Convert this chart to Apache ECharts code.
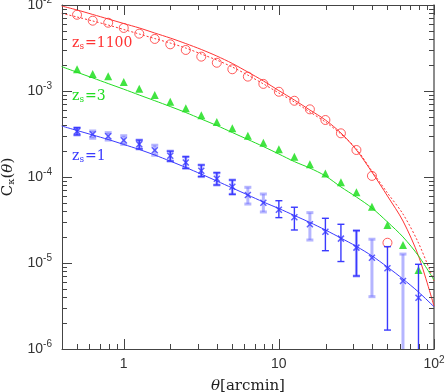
<!DOCTYPE html>
<html>
<head>
<meta charset="utf-8">
<script src="https://cdn.jsdelivr.net/npm/echarts@6/dist/echarts.min.js"></script>
<style>
  html, body { margin: 0; padding: 0; background: #fff; }
  #main { width: 447px; height: 392px; }
</style>
</head>
<body>
<div id="main"></div>
<script>
// theta [arcmin] of the measured points
var theta = [0.5, 0.631, 0.794, 1.0, 1.259, 1.585, 1.995, 2.512, 3.162, 3.981, 5.012, 6.31,
  7.943, 10.0, 12.59, 15.85, 19.95, 25.12, 31.62, 39.81, 50.12, 63.1, 79.43];
// theta grid of the model curves
var thetaLine = [0.398, 0.501, 0.631, 0.794, 1.0, 1.259, 1.585, 1.995, 2.512, 3.162, 3.981, 5.012,
  6.31, 7.943, 10.0, 12.59, 15.85, 19.95, 25.12, 31.62, 39.81, 50.12, 63.1, 79.43, 100];

// z_s = 1100
var red1100Pts = [7.7e-3, 6.57e-3, 6.22e-3, 5.41e-3, 4.64e-3, 4.03e-3, 3.49e-3, 3.0e-3, 2.51e-3, 2.13e-3,
  1.79e-3, 1.47e-3, 1.21e-3, 9.8e-4, 7.7e-4, 6.12e-4, 4.6e-4, 3.22e-4, 2.06e-4, 1.03e-4, 1.72e-5];
var red1100Solid = [9.73e-3, 8.75e-3, 7.76e-3, 6.88e-3, 6.09e-3, 5.41e-3, 4.72e-3, 4.13e-3, 3.56e-3, 3.04e-3,
  2.55e-3, 2.09e-3, 1.66e-3, 1.31e-3, 1.01e-3, 7.85e-4, 6.01e-4, 4.6e-4, 3.25e-4, 2.06e-4,
  1.14e-4, 6.01e-5, 3.08e-5, 1.21e-5, 3.16e-6];
var red1100Dotted = [8.0e-3, 7.25e-3, 6.52e-3, 5.85e-3, 5.19e-3, 4.6e-3, 4.07e-3, 3.61e-3, 3.16e-3, 2.69e-3,
  2.29e-3, 1.9e-3, 1.53e-3, 1.21e-3, 9.48e-4, 7.45e-4, 5.7e-4, 4.36e-4, 3.16e-4, 2.12e-4,
  1.17e-4, 6.52e-5, 3.71e-5, 1.71e-5, 6.18e-6];

// z_s = 3
var green3Pts = [1.79e-3, 1.58e-3, 1.48e-3, 1.27e-3, 1.064e-3, 8.98e-4, 7.51e-4, 6.3e-4, 5.21e-4, 4.36e-4,
  3.68e-4, 3.02e-4, 2.5e-4, 2.1e-4, 1.72e-4, 1.41e-4, 1.1e-4, 8.68e-5, 6.64e-5, 4.52e-5,
  2.77e-5, 1.62e-5, 8.3e-6];
var green3Line = [1.92e-3, 1.65e-3, 1.42e-3, 1.22e-3, 1.05e-3, 8.98e-4, 7.71e-4, 6.6e-4, 5.62e-4, 4.72e-4,
  3.97e-4, 3.29e-4, 2.73e-4, 2.26e-4, 1.85e-4, 1.51e-4, 1.27e-4, 1.03e-4, 7.66e-5, 5.85e-5,
  4.36e-5, 3.0e-5, 2.01e-5, 1.21e-5, 6.34e-6];

// z_s = 1
var blue1Pts = [3.4e-4, 3.14e-4, 2.97e-4, 2.67e-4, 2.4e-4, 2.05e-4, 1.77e-4, 1.476e-4, 1.18e-4, 9.55e-5,
  7.69e-5, 6.18e-5, 5.03e-5, 4.17e-5, 3.4e-5, 2.82e-5, 2.31e-5, 1.92e-5, 1.51e-5, 1.15e-5,
  8.67e-6, 6.18e-6, 3.95e-6];
var blue1Hi = [3.74e-4, 3.43e-4, 3.28e-4, 3.02e-4, 2.69e-4, 2.34e-4, 2.0e-4, 1.72e-4, 1.38e-4, 1.12e-4,
  9.23e-5, 7.59e-5, 6.34e-5, 5.3e-5, 4.45e-5, 3.85e-5, 3.31e-5, 2.82e-5, 2.38e-5, 1.89e-5,
  1.55e-5, 1.27e-5, 9.66e-6];
var blue1Lo = [3.08e-4, 2.82e-4, 2.69e-4, 2.4e-4, 2.12e-4, 1.79e-4, 1.53e-4, 1.26e-4, 1.01e-4, 8.07e-5,
  6.3e-5, 4.85e-5, 3.92e-5, 3.37e-5, 2.42e-5, 1.85e-5, 1.39e-5, 1.04e-5, 7.06e-6, 4.06e-6,
  1.66e-6, 1e-7, 1e-7];
var blue1Line = [3.92e-4, 3.47e-4, 3.08e-4, 2.73e-4, 2.39e-4, 2.09e-4, 1.8e-4, 1.53e-4, 1.29e-4, 1.08e-4,
  8.98e-5, 7.45e-5, 6.18e-5, 5.12e-5, 4.3e-5, 3.57e-5, 2.96e-5, 2.42e-5, 1.95e-5, 1.56e-5,
  1.21e-5, 8.97e-6, 6.51e-6, 4.6e-6, 3.1e-6];
// which points show the light (thick) error estimate and which the dark (thin) one
var lightBars = [0, 1, 2, 3, 4, 5, 6, 7, 8, 9, 10, 11, 12, 15, 18, 19, 21];
var darkBars = [0, 4, 6, 7, 8, 9, 10, 13, 14, 16, 17, 18, 20, 22];

var xMin = 0.4, xMax = 100, yMin = 1e-6, yMax = 1e-2;

var RED = '#ff3333', GREEN = '#22dd22', BLUE = '#3a3aff', LIGHTBLUE = 'rgba(120,120,255,0.55)';

function pairs(xs, ys) {
  return ys.map(function (y, i) { return [xs[i], y]; });
}

function errRows(idx) {
  return idx.map(function (i) { return [theta[i], blue1Lo[i], blue1Hi[i]]; });
}

// tick values
var xTicks = [], yTicks = [];
[0.1, 1, 10, 100].forEach(function (d) {
  for (var m = 1; m <= 9; m++) {
    var v = +(m * d).toPrecision(3);
    if (v > xMin * 1.001 && v <= xMax * 1.001) xTicks.push([v, m === 1]);
  }
});
[1e-6, 1e-5, 1e-4, 1e-3, 1e-2].forEach(function (d) {
  for (var m = 1; m <= 9; m++) {
    var v = +(m * d).toPrecision(3);
    if (v >= yMin * 0.999 && v <= yMax * 1.001) yTicks.push([v, m === 1]);
  }
});

function crisp(v) { return Math.round(v) + 0.5; }

function renderTicks(params, api) {
  var ch = [];
  function seg(x1, y1, x2, y2) {
    ch.push({ type: 'line', shape: { x1: x1, y1: y1, x2: x2, y2: y2 },
      style: { stroke: '#444', lineWidth: 1 } });
  }
  xTicks.forEach(function (t) {
    var len = t[1] ? 10 : 5;
    var b = api.coord([t[0], yMin]), tp = api.coord([t[0], yMax]);
    var x = crisp(b[0]);
    seg(x, b[1], x, b[1] - len);
    seg(x, tp[1], x, tp[1] + len);
  });
  yTicks.forEach(function (t) {
    var len = t[1] ? 10 : 5;
    var l = api.coord([xMin, t[0]]), r = api.coord([xMax, t[0]]);
    var y = crisp(l[1]);
    seg(l[0], y, l[0] + len, y);
    seg(r[0], y, r[0] - len, y);
  });
  return { type: 'group', children: ch };
}

// error bars as filled rectangles (stem + caps)
function errRenderer(color, width) {
  return function (params, api) {
    var x = api.value(0);
    var top = api.coord([x, api.value(2)]);
    var bot = api.coord([x, api.value(1)]);
    var floor = api.coord([x, yMin])[1];
    var cx = top[0];
    var clipped = bot[1] > floor;
    var by = clipped ? floor : bot[1];
    var ch = [];
    function box(x0, y0, w, h) {
      ch.push({ type: 'rect', shape: { x: x0, y: y0, width: w, height: h },
        style: { fill: color } });
    }
    box(cx - width / 2, top[1], width, by - top[1]);
    box(cx - 3.5, top[1] - width / 2, 7, width);
    if (!clipped) box(cx - 3.5, bot[1] - width / 2, 7, width);
    return { type: 'group', children: ch };
  };
}

function powLabel(v) {
  var e = Math.round(Math.log10(v));
  if (Math.abs(Math.log10(v) - e) > 1e-6) return '';
  if (e === 0) return '1';
  if (e === 1) return '10';
  return '10{sup|' + e + '}';
}

var labelRich = {
  sup: { fontSize: 10, fontFamily: 'Liberation Sans', color: '#333', padding: [0, 0, 9, 0] }
};

function zLabel(txt, color, top) {
  return { type: 'text', left: 72, top: top, style: { text: '{a|z}{b|s}{a|=' + txt + '}', rich: {
    a: { fontFamily: 'DejaVu Serif', fontSize: 14, fill: color },
    b: { fontFamily: 'DejaVu Serif', fontSize: 9, fill: color, padding: [8, 1, 0, 0] } } } };
}

var chart = echarts.init(document.getElementById('main'));
chart.setOption({
  animation: false,
  grid: { left: 62, right: 13, top: 5, bottom: 43, containLabel: false, outerBoundsMode: 'none' },
  xAxis: [{
    type: 'log', min: xMin, max: xMax, position: 'bottom',
    axisLine: { lineStyle: { color: '#444', width: 1 } },
    axisTick: { show: false }, splitLine: { show: false }, minorTick: { show: false },
    axisLabel: { formatter: powLabel, rich: labelRich, margin: 6, lineHeight: 19,
      color: '#333', fontSize: 14, fontFamily: 'Liberation Sans', hideOverlap: false },
    name: '{it|θ}[arcmin]', nameLocation: 'middle', nameGap: 18,
    nameTextStyle: { fontFamily: 'DejaVu Serif', fontSize: 15, color: '#222',
      rich: { it: { fontFamily: 'DejaVu Serif', fontStyle: 'italic', fontSize: 15, color: '#222' } } }
  }, {
    type: 'log', min: xMin, max: xMax, position: 'top',
    axisLine: { lineStyle: { color: '#444', width: 1 } },
    axisTick: { show: false }, axisLabel: { show: false }, splitLine: { show: false }
  }],
  yAxis: [{
    type: 'log', min: yMin, max: yMax, position: 'left',
    axisLine: { show: true, lineStyle: { color: '#444', width: 1 } },
    axisTick: { show: false }, splitLine: { show: false },
    axisLabel: { formatter: powLabel, rich: labelRich, margin: 10, lineHeight: 19,
      color: '#333', fontSize: 14, fontFamily: 'Liberation Sans', hideOverlap: false },
    name: 'C{sub|κ}({it|θ})', nameLocation: 'middle', nameGap: 44,
    nameTextStyle: { fontFamily: 'DejaVu Serif', fontSize: 15, color: '#222',
      rich: {
        sub: { fontFamily: 'DejaVu Serif', fontSize: 10, color: '#222', padding: [7, 0, 0, 0] },
        it: { fontFamily: 'DejaVu Serif', fontStyle: 'italic', fontSize: 15, color: '#222' }
      } }
  }, {
    type: 'log', min: yMin, max: yMax, position: 'right',
    axisLine: { show: true, lineStyle: { color: '#666', width: 1.5 } },
    axisTick: { show: false }, axisLabel: { show: false }, splitLine: { show: false }
  }],
  graphic: [
    zLabel('1100', RED, 36),
    zLabel('3', GREEN, 89),
    zLabel('1', BLUE, 149)
  ],
  series: [
    { type: 'custom', name: 'ticks', renderItem: renderTicks, data: [[1, 1e-4]], silent: true, z: 10 },
    { type: 'line', data: pairs(thetaLine, red1100Solid), showSymbol: false, smooth: 0.3,
      lineStyle: { color: RED, width: 1 } },
    { type: 'line', data: pairs(thetaLine, red1100Dotted), showSymbol: false, smooth: 0.3,
      lineStyle: { color: RED, width: 1, type: [2, 2] } },
    { type: 'line', data: pairs(thetaLine, green3Line), showSymbol: false, smooth: 0.3,
      lineStyle: { color: GREEN, width: 1 } },
    { type: 'line', data: pairs(thetaLine, blue1Line), showSymbol: false, smooth: 0.3,
      lineStyle: { color: BLUE, width: 1 } },
    { type: 'scatter', data: pairs(theta, red1100Pts), symbol: 'circle', symbolSize: 9,
      itemStyle: { color: 'rgba(0,0,0,0)', borderColor: RED, borderWidth: 1 } },
    { type: 'scatter', data: pairs(theta, green3Pts), symbol: 'triangle', symbolSize: [8, 8],
      itemStyle: { color: '#11dd11' } },
    { type: 'custom', renderItem: errRenderer(LIGHTBLUE, 3), data: errRows(lightBars), z: 3 },
    { type: 'custom', renderItem: errRenderer(BLUE, 1.4), data: errRows(darkBars), z: 4 },
    { type: 'scatter', data: pairs(theta, blue1Pts), symbol: 'path://M0,0L10,10M10,0L0,10', symbolSize: 6,
      itemStyle: { color: 'rgba(0,0,0,0)', borderColor: BLUE, borderWidth: 1.5 }, z: 5 }
  ]
});
</script>
</body>
</html>
